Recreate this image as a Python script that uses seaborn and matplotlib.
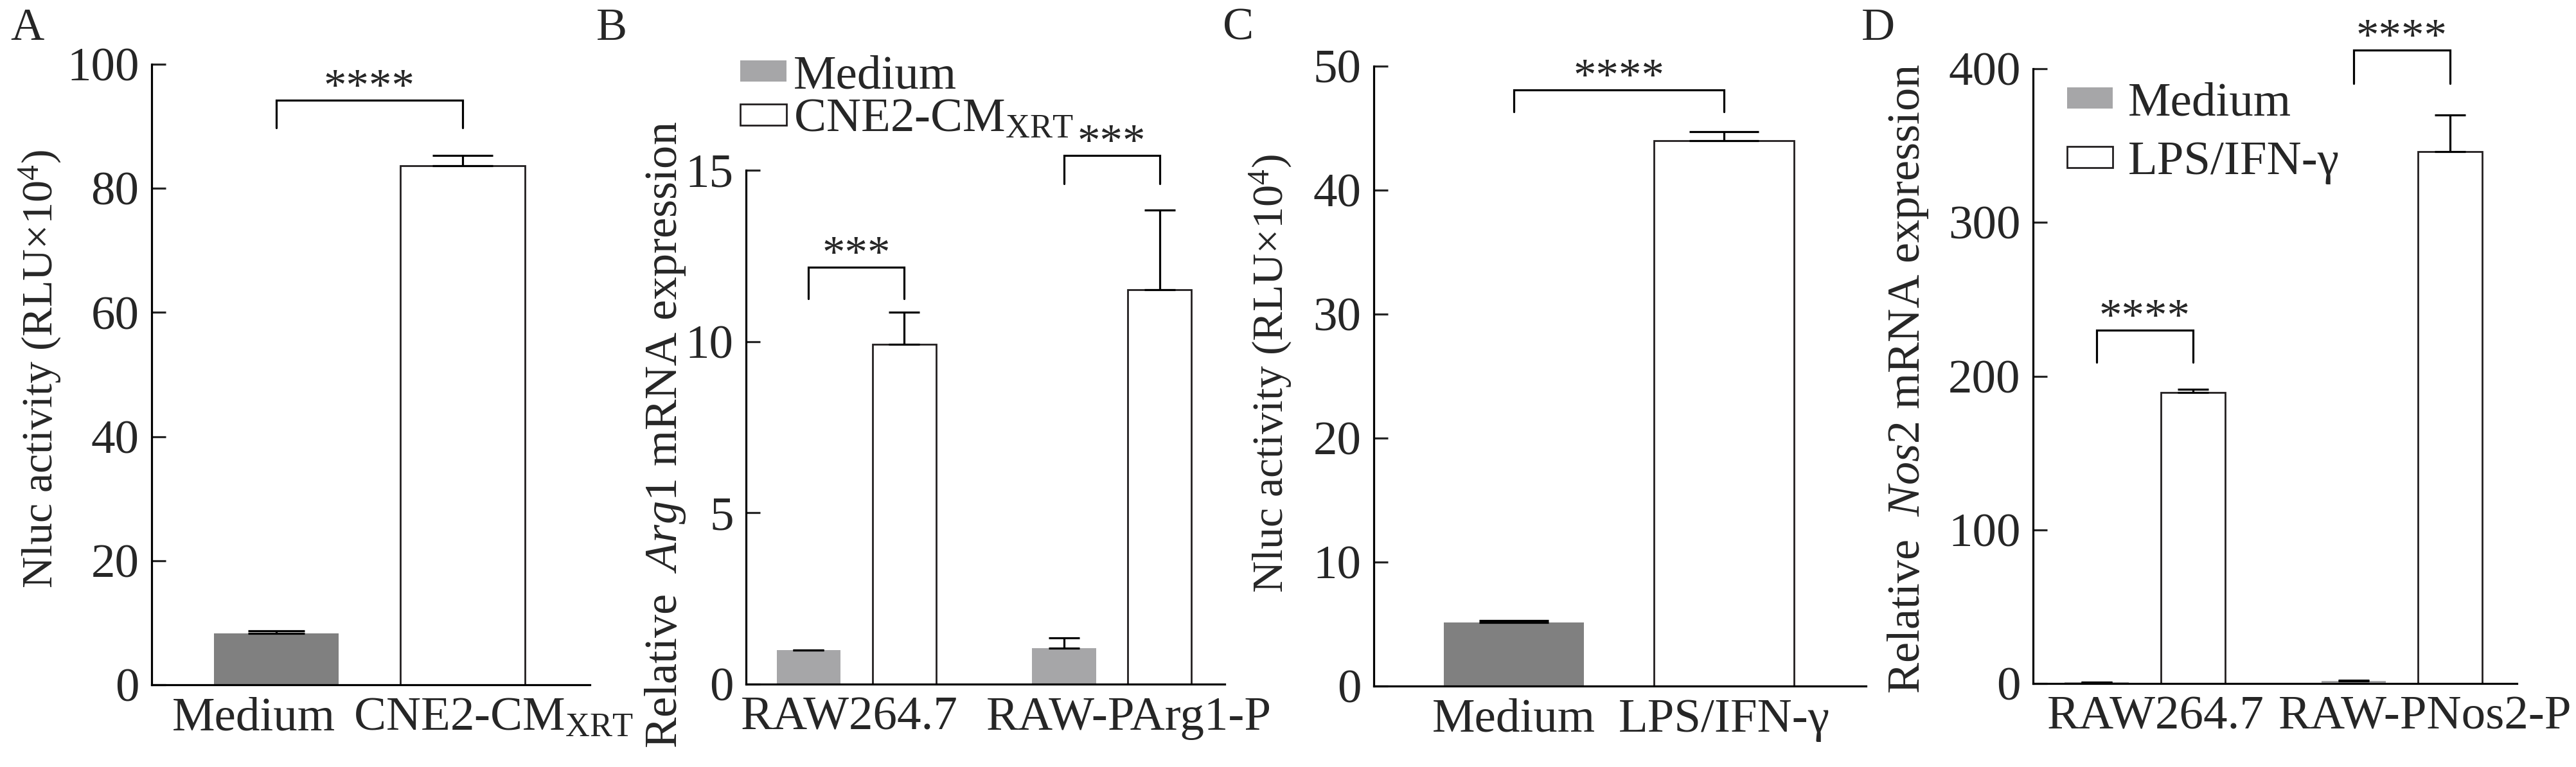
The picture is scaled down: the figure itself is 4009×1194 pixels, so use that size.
import pandas as pd
import seaborn as sns
import matplotlib
matplotlib.use('Agg')
import matplotlib.pyplot as plt
from matplotlib.transforms import ScaledTranslation

# data
A_conditions = ['Medium', 'CNE2-CM$_\\mathregular{XRT}$']
A_means = [8.3, 83.6]
A_sem = [0.35, 1.7]

B_cells = ['RAW264.7', 'RAW-PArg1-P']
B_treat = ['Medium', 'CNE2-CM$_\\mathregular{XRT}$']
B_medium = [1.0, 1.05]
B_medium_sem = [0.0, 0.3]
B_cm = [9.92, 11.52]
B_cm_sem = [0.93, 2.31]

C_conditions = ['Medium', 'LPS/IFN-γ']
C_means = [5.13, 44.0]
C_sem = [0.15, 0.7]

D_cells = ['RAW264.7', 'RAW-PNos2-P']
D_treat = ['Medium', 'LPS/IFN-γ']
D_medium = [1.0, 1.5]
D_medium_sem = [0.0, 0.5]
D_lps = [189.3, 346.2]
D_lps_sem = [2.3, 23.6]

# significance brackets: (leg bottom, bracket top, label)
A_sig = [(89.7, 94.2, '****')]
B_sig = [(11.25, 12.17, '***'), (14.6, 15.43, '***')]
C_sig = [(46.3, 48.1, '****')]
D_sig = [(209, 229.7, '****'), (390.5, 412, '****')]

sns.set_style('ticks')
plt.rcParams['font.family'] = ['Liberation Serif', 'DejaVu Serif']
plt.rcParams['mathtext.fontset'] = 'custom'
plt.rcParams['mathtext.rm'] = 'Liberation Serif'
plt.rcParams['mathtext.it'] = 'Liberation Serif:italic'

FS = 27      # horizontal text
FS_STAR = 25.5
LW = 1.15
EDGE = '#231f20'
DARK = '#808080'
LIGHT = '#a6a6a8'
W, H = 4009, 1194
DPI = 200

fig = plt.figure(figsize=(W / DPI, H / DPI), dpi=DPI)


def add_ax(left, right, top, bottom):
    return fig.add_axes([left / W, 1 - bottom / H, (right - left) / W, (bottom - top) / H])


def style_ax(ax, ylim, yticks, xlim, shifts):
    ax.set_ylim(*ylim)
    ax.set_yticks(yticks)
    ax.set_xlim(*xlim)
    sns.despine(ax=ax)
    for s in ['left', 'bottom']:
        ax.spines[s].set_linewidth(LW)
        ax.spines[s].set_color('black')
    ax.tick_params(axis='y', direction='in', length=8, width=LW, labelsize=FS, pad=7)
    ax.tick_params(axis='x', length=0, labelsize=FS, pad=7)
    ax.set_xlabel('')
    ax.set_ylabel('')
    # the original nudges some category labels sideways so they do not collide
    for lab, dx in zip(ax.get_xticklabels(), shifts):
        lab.set_transform(lab.get_transform() + ScaledTranslation(dx / DPI, 0, fig.dpi_scale_trans))


def add_err(ax, container, sems, capsize):
    for bar, e in zip(container, sems):
        x = bar.get_x() + bar.get_width() / 2
        ax.errorbar(x, bar.get_height(), yerr=[[0], [e]], fmt='none', ecolor='black',
                    elinewidth=LW, capsize=capsize, capthick=LW, zorder=3)


def centers(container):
    return [b.get_x() + b.get_width() / 2 for b in container]


def bracket(ax, x0, x1, sig):
    low, top, txt = sig
    ax.plot([x0, x0, x1, x1], [low, top, top, low], color='black', lw=LW,
            clip_on=False, solid_joinstyle='miter')
    ax.text((x0 + x1) / 2, top, txt, ha='center', va='baseline', fontsize=FS_STAR, clip_on=False)


def open_bars(container):
    for b in container:
        b.set_edgecolor(EDGE)
        b.set_linewidth(1.0)


def flat_bars(container):
    for b in container:
        b.set_linewidth(0)


# ---- A ----
axA = add_ax(236, 918, 100, 1066)
sns.barplot(x=A_conditions, y=A_means, hue=A_conditions, palette=[DARK, 'white'],
            width=0.67, saturation=1, legend=False, ax=axA)
flat_bars(axA.containers[0])
open_bars(axA.containers[1])
add_err(axA, axA.containers[0], A_sem[:1], 16)
add_err(axA, axA.containers[1], A_sem[1:], 17)
style_ax(axA, (0, 100), range(0, 101, 20), (-0.669, 1.683), [-35, 48])
bracket(axA, centers(axA.containers[0])[0], centers(axA.containers[1])[0], A_sig[0])

# ---- B ----
axB = add_ax(1161, 1906, 265, 1065)
dfB = pd.DataFrame({'cell': B_cells * 2,
                    'treat': [B_treat[0]] * 2 + [B_treat[1]] * 2,
                    'value': B_medium + B_cm})
sns.barplot(data=dfB, x='cell', y='value', hue='treat', palette=[LIGHT, 'white'],
            width=0.75, gap=0.33, saturation=1, errorbar=None, legend=False, ax=axB)
flat_bars(axB.containers[0])
open_bars(axB.containers[1])
add_err(axB, axB.containers[0], B_medium_sem, 8.5)
add_err(axB, axB.containers[1], B_cm_sem, 8.5)
style_ax(axB, (0, 15), [0, 5, 10, 15], (-0.433, 1.443), [-11, 27])
for i, sig in enumerate(B_sig):
    bracket(axB, centers(axB.containers[0])[i], centers(axB.containers[1])[i], sig)
axB.legend(axB.containers[:2], B_treat, loc='upper left', frameon=False, fontsize=FS,
           bbox_to_anchor=(1152 / W, 1 - 86 / H), bbox_transform=fig.transFigure,
           borderpad=0, borderaxespad=0, handlelength=0.96, handleheight=0.3,
           handletextpad=0.15, labelspacing=0.0)

# ---- C ----
axC = add_ax(2138, 2904, 103, 1068)
sns.barplot(x=C_conditions, y=C_means, hue=C_conditions, palette=[DARK, 'white'],
            width=0.667, saturation=1, legend=False, ax=axC)
flat_bars(axC.containers[0])
open_bars(axC.containers[1])
add_err(axC, axC.containers[0], C_sem[:1], 19.5)
add_err(axC, axC.containers[1], C_sem[1:], 19.5)
style_ax(axC, (0, 50), range(0, 51, 10), (-0.667, 1.676), [0, 0])
bracket(axC, centers(axC.containers[0])[0], centers(axC.containers[1])[0], C_sig[0])

# ---- D ----
axD = add_ax(3164, 3917, 107, 1064)
dfD = pd.DataFrame({'cell': D_cells * 2,
                    'treat': [D_treat[0]] * 2 + [D_treat[1]] * 2,
                    'value': D_medium + D_lps})
sns.barplot(data=dfD, x='cell', y='value', hue='treat', palette=[LIGHT, 'white'],
            width=0.75, gap=0.33, saturation=1, errorbar=None, legend=False, ax=axD)
flat_bars(axD.containers[0])
open_bars(axD.containers[1])
add_err(axD, axD.containers[0], D_medium_sem, 8.5)
add_err(axD, axD.containers[1], D_lps_sem, 8.5)
style_ax(axD, (0, 400), range(0, 401, 100), (-0.435, 1.4475), [17, 36])
for i, sig in enumerate(D_sig):
    bracket(axD, centers(axD.containers[0])[i], centers(axD.containers[1])[i], sig)
axD.legend(axD.containers[:2], D_treat, loc='upper left', frameon=False, fontsize=FS,
           bbox_to_anchor=(3217 / W, 1 - 128 / H), bbox_transform=fig.transFigure,
           borderpad=0, borderaxespad=0, handlelength=0.95, handleheight=0.3,
           handletextpad=0.32, labelspacing=0.32)

# y labels and panel letters: (x px, y px, size, text)
ylabels = [
    (63, 575, 24.5, 'Nluc activity (RLU×10$^\\mathregular{4}$)'),
    (1035, 677, 26, 'Relative  $\\mathit{Arg1}$ mRNA expression'),
    (1978, 582, 24.5, 'Nluc activity (RLU×10$^\\mathregular{4}$)'),
    (2970, 590, 26, 'Relative  $\\mathit{Nos2}$ mRNA expression'),
]
for x, y, size, t in ylabels:
    fig.text(x / W, 1 - y / H, t, rotation=90, ha='center', va='center', fontsize=size)

for x, t in [(16, 'A'), (928, 'B'), (1903, 'C'), (2897, 'D')]:
    fig.text(x / W, 1 - 62 / H, t, ha='left', va='baseline', fontsize=26)

fig.savefig('out.png', dpi=DPI, facecolor='white')
